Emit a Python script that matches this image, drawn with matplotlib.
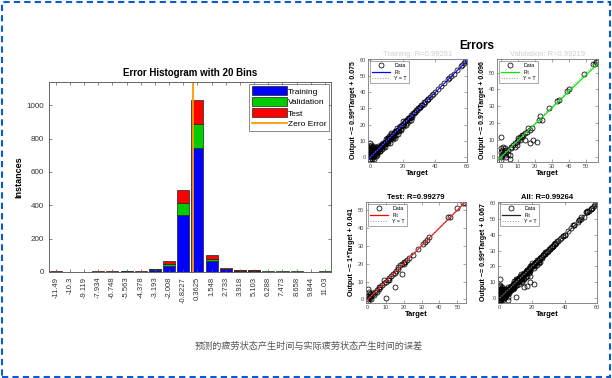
import numpy as np
import matplotlib
matplotlib.use("Agg")
import matplotlib.pyplot as plt
from matplotlib.patches import Rectangle

plt.rcParams['font.family'] = ['Liberation Sans', 'DejaVu Sans']

# ---------------- data ----------------
bin_labels = ["-11.49", "-10.3", "-9.119", "-7.934", "-6.748", "-5.563", "-4.378",
              "-3.193", "-2.008", "-0.8227", "0.3625", "1.548", "2.733", "3.918",
              "5.103", "6.288", "7.473", "8.658", "9.844", "11.03"]
bin_centers = [float(s) for s in bin_labels]
hist_training   = [2, 0, 0, 2, 2, 3, 2, 15, 38, 344, 742, 66, 18, 8, 8, 2, 2, 2, 0, 2]
hist_validation = [0, 0, 0, 0, 0, 1, 0, 3, 10, 68, 146, 14, 2, 1, 1, 1, 1, 1, 0, 1]
hist_test       = [1, 0, 0, 1, 1, 1, 1, 2, 16, 80, 146, 24, 2, 1, 1, 0, 0, 0, 0, 0]

train_pts = [(0, -2), (0, -1), (0, 1), (0, 3), (0, 5), (0, 7), (0, 8.5), (0.3, 2), (0.3, 6),
             (0.5, 0), (0.5, 4), (0.8, -1), (1, 1), (1, 3), (1, 6), (1.2, 2), (1.5, 0),
             (1.5, 5), (2, 2), (2, 4), (2, -1), (2.5, 3), (2.5, 1), (3, 3), (3, 5), (3.5, 2),
             (3.5, 6), (4, 4), (4, 1.5), (4.5, 4), (5, 5), (5, 7), (5.5, 5), (6, 6), (6, 3.5),
             (6.5, 6.5), (7, 7), (7, 5), (7.5, 8), (8, 8), (8, 9), (8.5, 8), (9, 9), (9, 6.5),
             (9.5, 9.5), (10, 10), (10, 12), (10.5, 10), (11, 11), (11, 8.5), (11.5, 11.5),
             (12, 12), (12, 9), (12.5, 12.5), (13, 13), (13, 15), (13.5, 13), (14, 14),
             (14, 11), (15, 15), (15, 12), (15.5, 15.5), (16, 16), (16, 13.5), (17, 17),
             (17, 14), (18, 18), (18, 16), (19, 19), (19, 17), (20, 20), (20, 22), (21, 21),
             (21, 19), (22, 22), (22, 20), (23, 23), (23, 21), (24, 24), (24, 22.5), (25, 25),
             (25, 23), (26, 26), (26, 25), (27, 27), (28, 28), (29, 29), (30, 30), (31, 31),
             (32, 32), (33, 33), (34, 34), (35, 35), (36, 36), (37, 37), (40, 40), (44, 44),
             (46, 46), (49, 49), (52, 51), (56, 56), (58, 58), (59, 59),
             (0.2, 4), (0.4, 7.5), (0.6, 2.5), (0.7, 5.5), (0.9, 0.5), (1.1, 4.5), (1.3, 7),
             (1.7, 3), (1.8, 1), (2.2, 5.5), (2.7, 2), (2.8, 4.5), (3.2, 1), (3.3, 4), (3.8, 3),
             (4.2, 5.5), (4.4, 2.5), (4.8, 3.5), (5.2, 6), (5.7, 4), (6.2, 5), (6.8, 7.5),
             (7.2, 6), (7.8, 7), (8.2, 6.5), (8.8, 9.5), (9.2, 8), (9.8, 11), (10.2, 8.5),
             (10.8, 11.5), (11.2, 10), (11.8, 13), (12.2, 11), (12.8, 14), (13.2, 11.5),
             (13.8, 12.5), (14.5, 15), (14.8, 13), (15.2, 16), (16.5, 16), (16.8, 18),
             (17.5, 17), (18.5, 19), (18.8, 17.5), (19.5, 20), (20.5, 20), (21.5, 22),
             (22.5, 23), (23.5, 24), (24.5, 24), (25.5, 26), (26.5, 27), (27.5, 28), (28.5, 29),
             (29.5, 30), (30.5, 31), (31.5, 32), (33.5, 34), (35.5, 36), (38, 38), (39, 39),
             (42, 42), (48, 48), (50, 50), (54, 54), (57, 57), (60, 59.5)]
val_pts = [(0, -2), (0, 0), (0, 3), (0, 5), (0, 12), (0.5, 1), (1, 2), (1, 6), (2, 1), (2, 4),
           (3, 3), (3, 0), (4, 4), (5, -1), (5, 1), (6, 5), (7, 7), (8, 6), (9, 9), (10, 11),
           (10, 10), (11, 12), (12, 12), (13, 13), (14, 14), (14, 10), (15, 15), (17, 8),
           (17, 16), (18, 17), (19, 10), (21, 9), (22, 22), (23, 24), (24, 22), (28, 29),
           (33, 33), (34, 34), (39, 39), (40, 40), (49, 49), (54, 55), (55, 55), (56, 56),
           (57, 57), (0.5, 4), (1.5, 3), (2.5, 5), (4, 2), (6, 6), (8, 8), (9, 7),
           (11, 10), (12, 13), (16, 17)]
test_pts = [(0, 0), (0, 6), (0, 2), (0, -1), (0.5, 4), (1, 1), (1, 3), (2, 0), (2, 2), (3, 3),
            (4, 4), (5, 5), (6, 6), (7, 7), (8, 8), (9, 11), (10, 1), (10, 10), (11, 11),
            (12, 12), (13, 13), (14, 14), (15, 7), (15, 15), (16, 16), (17, 17), (18, 19),
            (19, 14), (19, 20), (20, 21), (21, 21), (22, 22), (23, 23), (25, 25), (28, 28),
            (31, 31), (32, 32), (33, 33), (34, 35), (45, 46), (46, 46), (50, 51), (53, 54),
            (54, 54), (0.5, 1.5), (1.5, 2), (2.5, 3.5), (3.5, 2.5), (5, 4), (6.5, 7),
            (9, 9), (12, 11), (17, 18), (20, 20)]

fit_slope = {"Training": 0.99, "Validation": 0.97, "Test": 1.0, "All": 0.99}
fit_offset = {"Training": 0.075, "Validation": 0.096, "Test": 0.041, "All": 0.067}
ylabels = {"Training": "Output ~= 0.99*Target + 0.075",
           "Validation": "Output ~= 0.97*Target + 0.096",
           "Test": "Output ~= 1*Target + 0.041",
           "All": "Output ~= 0.99*Target + 0.067"}
titles = {"Training": "Training: R=0.99261", "Validation": "Validation: R=0.99219",
          "Test": "Test: R=0.99279", "All": "All: R=0.99264"}
caption = "预测的疲劳状态产生时间与实际疲劳状态产生时间的误差"

# ---------------- figure ----------------
W, H = 612, 378
fig = plt.figure(figsize=(W / 100, H / 100), dpi=100)
fig.patch.set_facecolor("white")


def ax_px(x0, y0, x1, y1):
    return fig.add_axes([x0 / W, 1 - y1 / H, (x1 - x0) / W, (y1 - y0) / H])


# Histogram
ax = ax_px(49, 82, 331, 272)
bw = (bin_centers[-1] - bin_centers[0]) / 19
tr = np.array(hist_training)
va = np.array(hist_validation)
te = np.array(hist_test)
bwid = bw * 0.85
b1 = ax.bar(bin_centers, tr, width=bwid, color="#0000ff", edgecolor="#222222", lw=0.5, label="Training")
b2 = ax.bar(bin_centers, va, width=bwid, bottom=tr, color="#00cc00", edgecolor="#222222", lw=0.5, label="Validation")
b3 = ax.bar(bin_centers, te, width=bwid, bottom=tr + va, color="#ff0000", edgecolor="#222222", lw=0.5, label="Test")
zl = ax.axvline(0, color="#ff9900", lw=1.3, label="Zero Error")
ax.set_xlim(bin_centers[0] - 0.47 * bw, bin_centers[-1] + 0.42 * bw)
ax.set_ylim(0, 1140)
ax.set_xticks(bin_centers)
ax.set_xticklabels(bin_labels, rotation=90, fontsize=5.5, color="#333333")
ax.set_yticks([0, 200, 400, 600, 800, 1000])
ax.tick_params(axis="y", labelsize=5.8, labelcolor="#333333")
ax.tick_params(direction="in", top=True, right=True, length=2.5, width=0.5, color="#555555")
for s in ax.spines.values():
    s.set_color("#666666")
    s.set_linewidth(0.7)
ax.set_ylabel("Instances", fontsize=6.5, fontweight="bold", labelpad=2)
ax.set_title("Error Histogram with 20 Bins", fontsize=7, fontweight="bold", pad=4)
leg = ax.legend([b1, b2, b3, zl], ["Training", "Validation", "Test", "Zero Error"],
                loc="upper right", fontsize=6, frameon=True, fancybox=False,
                handlelength=4.2, handleheight=1.3, borderpad=0.25, labelspacing=0.2,
                handletextpad=0.2, borderaxespad=0.25)
leg.get_frame().set_edgecolor("#555555")
leg.get_frame().set_linewidth(0.6)

# Errors title
fig.text(477 / W, 1 - 46 / H, "Errors", fontsize=8.5, fontweight="bold", ha="center", va="center")

panels = [
    ("Training", train_pts, "#0000ff", (368, 59, 467, 162), (-1.5, 60), (-3, 60.5), [0, 20, 40, 60], [0, 10, 20, 30, 40, 50, 60]),
    ("Validation", val_pts, "#00ee00", (497, 59, 598, 162), (-2.5, 57), (-3, 58), [0, 10, 20, 30, 40, 50], [0, 10, 20, 30, 40, 50]),
    ("Test", test_pts, "#ff0000", (366, 202, 466, 303), (-1, 54.8), (-2, 54.5), [0, 10, 20, 30, 40, 50], [0, 10, 20, 30, 40, 50]),
    ("All", train_pts + val_pts + test_pts, "#222222", (498, 202, 597, 303), (-1, 60), (-3, 60.5), [0, 20, 40, 60], [0, 10, 20, 30, 40, 50, 60]),
]

for name, pts, col, box, xl, yl, xt, yt in panels:
    a = ax_px(*box)
    p = np.array(pts, dtype=float)
    a.plot(p[:, 0], p[:, 1], "o", mfc="none", mec="black", ms=3.6, mew=0.55, label="Data")
    xx = np.array(xl)
    a.plot(xx, fit_slope[name] * xx + fit_offset[name], color=col, lw=0.9, label="Fit")
    a.plot(xx, xx, ls=":", color="#999999", lw=0.7, label="Y = T")
    a.set_xlim(*xl)
    a.set_ylim(*yl)
    a.set_xticks(xt)
    a.set_yticks(yt)
    a.tick_params(labelsize=4, labelcolor="#444444", direction="in", top=True, right=True,
                  length=2, width=0.4, color="#666666", pad=1.5)
    for s in a.spines.values():
        s.set_color("#777777")
        s.set_linewidth(0.6)
    a.set_xlabel("Target", fontsize=5.5, fontweight="bold", labelpad=1)
    a.set_ylabel(ylabels[name], fontsize=5, fontweight="bold", labelpad=2)
    if name in ("Training", "Validation"):
        a.set_title(titles[name], fontsize=5.5, color="#cfcfcf", pad=2)
    else:
        a.set_title(titles[name], fontsize=5.5, fontweight="bold", pad=2.5)
    lg = a.legend(loc="upper left", fontsize=3.8, frameon=True, fancybox=False,
                  handlelength=3.4, borderpad=0.4, labelspacing=0.25, handletextpad=0.8,
                  borderaxespad=0.4)
    lg.get_frame().set_edgecolor("#666666")
    lg.get_frame().set_linewidth(0.5)

# Caption
fig.text(309 / W, 1 - 346 / H, caption, fontsize=6.6, color="#555555", ha="center", va="center",
         family=["Noto Sans CJK SC", "DejaVu Sans"])

# Dashed border
border = Rectangle((1.5 / W, 1.5 / H), (W - 4) / W, (H - 3.5) / H, transform=fig.transFigure,
                   fill=False, edgecolor="#0a5ad2", lw=1.5, linestyle=(0, (3, 2)))
fig.patches.append(border)

fig.savefig("out.png", dpi=100)
